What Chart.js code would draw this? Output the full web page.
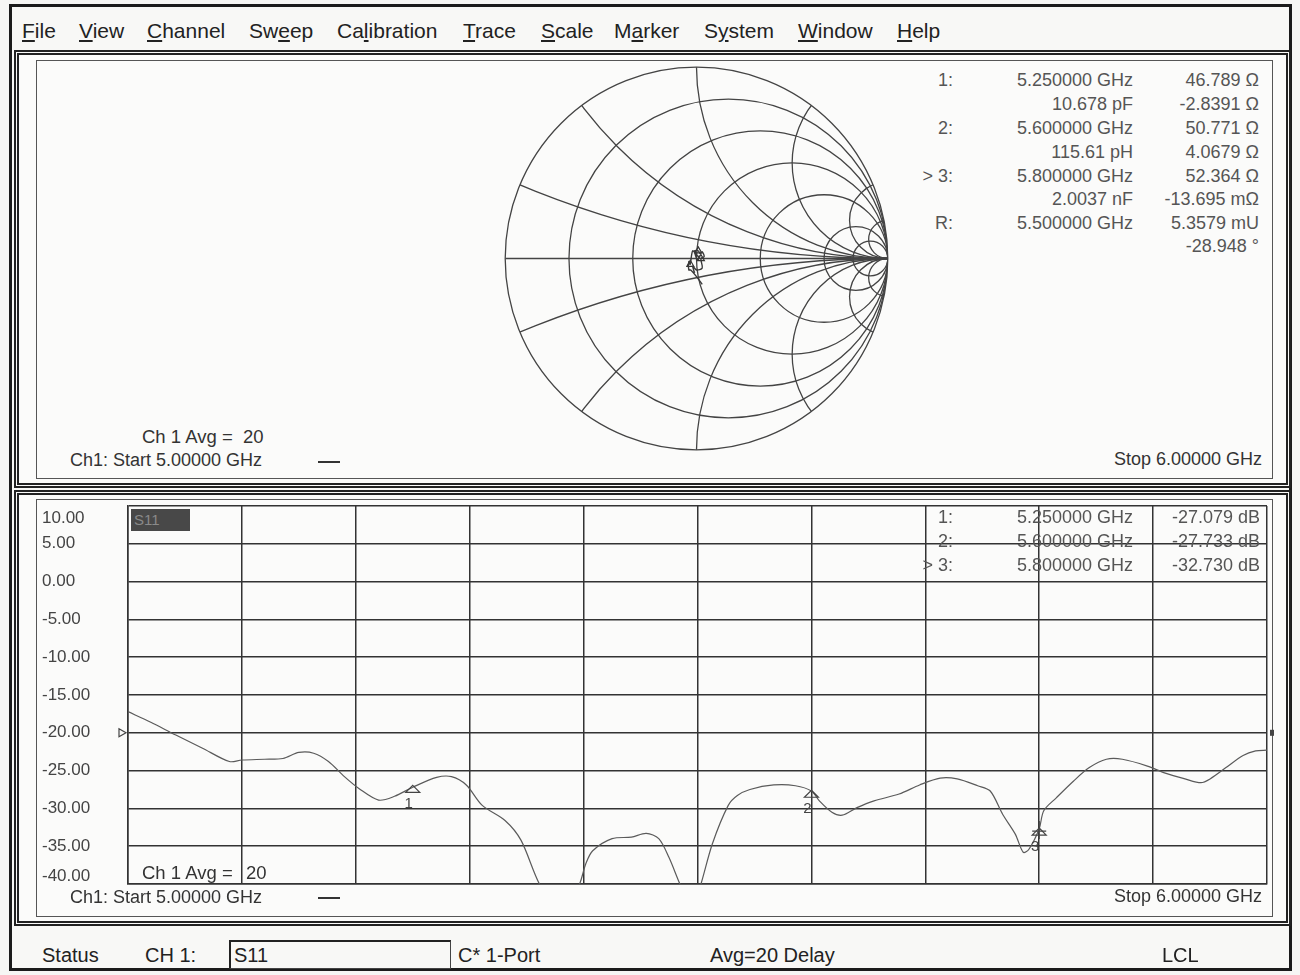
<!DOCTYPE html>
<html lang="en">
<head>
<meta charset="UTF-8">
<title>S11 - Network Analyzer</title>
<script src="https://cdn.jsdelivr.net/npm/chart.js"></script>
<style>
  body { margin: 0; width: 1300px; height: 975px; position: relative; overflow: hidden;
         background: #f6f6f4; font-family: "Liberation Sans", Arial, sans-serif; color: #333; }
  .box { position: absolute; box-sizing: border-box; }
  .txt { position: absolute; white-space: pre; line-height: 1; }
  .menu { position: absolute; top: 19px; font-size: 21px; color: #222; white-space: nowrap; }
  canvas { position: absolute; }
</style>
</head>
<body>
  <!-- window frame -->
  <div class="box" style="left:9px;top:4px;width:1283px;height:967px;border:3px solid #1b1b1b;background:#f8f8f6"></div>
  <div class="box" style="left:14px;top:50px;width:1277px;height:438px;border:5px double #222;background:#fbfbfa"></div>
  <div class="box" style="left:36px;top:60px;width:1237px;height:419px;border:1px solid #555"></div>
  <div class="box" style="left:14px;top:490px;width:1277px;height:436px;border:5px double #222;background:#fbfbfa"></div>
  <div class="box" style="left:36px;top:499px;width:1237px;height:418px;border:1px solid #555"></div>
  <div class="box" style="left:229px;top:940px;width:222px;height:29px;border:1px solid #444;border-top:2px solid #222;border-left:2px solid #222"></div>

  <div class="menu" style="left:22px"><u>F</u>ile</div>
  <div class="menu" style="left:79px"><u>V</u>iew</div>
  <div class="menu" style="left:147px"><u>C</u>hannel</div>
  <div class="menu" style="left:249px">Sw<u>e</u>ep</div>
  <div class="menu" style="left:337px">Ca<u>l</u>ibration</div>
  <div class="menu" style="left:463px"><u>T</u>race</div>
  <div class="menu" style="left:541px"><u>S</u>cale</div>
  <div class="menu" style="left:614px">M<u>a</u>rker</div>
  <div class="menu" style="left:704px">S<u>y</u>stem</div>
  <div class="menu" style="left:798px"><u>W</u>indow</div>
  <div class="menu" style="left:897px"><u>H</u>elp</div>

  <canvas id="smith" width="393" height="393" style="left:500px;top:62px"></canvas>
  <canvas id="dbChart" width="1236" height="412" style="left:38px;top:500px"></canvas>

<script>
// S11 log-magnitude trace
const freqGHz = [5.000, 5.020, 5.042, 5.065, 5.089, 5.100, 5.120, 5.136, 5.150, 5.163,
                 5.176, 5.190, 5.203, 5.220, 5.234, 5.250, 5.271, 5.284, 5.297, 5.311,
                 5.331, 5.345, 5.363, 5.380, 5.395, 5.402, 5.408, 5.425, 5.442, 5.455,
                 5.466, 5.475, 5.486, 5.495, 5.502, 5.513, 5.527, 5.535, 5.546, 5.567,
                 5.586, 5.600, 5.607, 5.618, 5.627, 5.640, 5.655, 5.677, 5.695, 5.713,
                 5.728, 5.746, 5.757, 5.768, 5.779, 5.786, 5.791, 5.800, 5.804, 5.815,
                 5.830, 5.844, 5.859, 5.873, 5.895, 5.910, 5.928, 5.942, 5.950, 5.964,
                 5.979, 5.990, 6.000];
const s11Db = [-17.2, -18.6, -20.3, -22.0, -23.8, -23.6, -23.5, -23.4, -22.6, -22.7,
               -23.8, -25.8, -27.4, -28.9, -28.4, -27.2, -25.9, -25.8, -26.9, -29.6,
               -31.6, -34.2, -40.5, -43.0, -40.5, -37.3, -35.6, -34.0, -33.8, -33.3,
               -34.0, -36.5, -40.5, -43.0, -40.5, -34.7, -29.6, -28.3, -27.5, -26.9,
               -27.0, -27.7, -29.0, -30.5, -30.9, -29.9, -29.0, -28.1, -26.9, -26.0,
               -26.1, -27.0, -27.7, -30.8, -33.4, -35.8, -35.4, -32.7, -30.3, -28.6,
               -26.4, -24.6, -23.5, -23.5, -24.4, -25.3, -26.1, -26.6, -26.1, -24.6,
               -23.0, -22.4, -22.3];

// the same sweep on the Smith chart (reflection coefficient, rough)
const smithRe = [0.030, 0.000, -0.030, -0.040, -0.040, -0.033, -0.020, 0.000, 0.010, 0.015, 0.005,
                 -0.010, 0.009, 0.020, 0.030, 0.040, 0.023, 0.030, 0.000, -0.020, -0.010];
const smithIm = [-0.135, -0.095, -0.060, -0.060, -0.015, -0.030, 0.040, 0.020, 0.010, 0.013, -0.008,
                 0.040, 0.040, 0.025, 0.035, 0.010, 0.000, -0.050, -0.060, -0.040, -0.075];

// markers
const markerNames = ['1:', '2:', '> 3:'];
const markerFreq = [5.25, 5.6, 5.8];
const markerDb = [-27.079, -27.733, -32.730];
const markerR = [46.789, 50.771, 52.364];
const markerX = [-2.8391, 4.0679, -0.013695];
const markerZText = ['46.789 Ω', '50.771 Ω', '52.364 Ω'];
const markerXText = ['-2.8391 Ω', '4.0679 Ω', '-13.695 mΩ'];
const markerLC = ['10.678 pF', '115.61 pH', '2.0037 nF'];
const refFreq = 5.5;
const refMag = '5.3579 mU';
const refAngle = '-28.948 °';

// axes
const yMin = -40, yMax = 10, yStep = 5;
const fStart = 5.0, fStop = 6.0, fStep = 0.1;
const refLevel = -20;
const z0 = 50;
const smithR = [0.2, 0.5, 1, 2, 5, 10];
const smithX = [0.2, 0.5, 1, 2, 5, 10];

function put(text, x, y, size, align, color) {
  const d = document.createElement('div');
  d.className = 'txt';
  d.textContent = text;
  d.style.left = x + 'px';
  d.style.top = y + 'px';
  d.style.fontSize = size + 'px';
  d.style.transform = align === 'right' ? 'translate(-100%,-50%)' : 'translate(0,-50%)';
  if (color) d.style.color = color;
  document.body.appendChild(d);
}

function ghz(f) { return f.toFixed(6) + ' GHz'; }

// ---- top panel readout ----
const rowY = [80, 104, 128, 152, 176, 199, 223, 246];
markerNames.forEach((n, i) => {
  put(n, 953, rowY[i * 2], 18, 'right', '#555');
  put(ghz(markerFreq[i]), 1133, rowY[i * 2], 18, 'right', '#555');
  put(markerZText[i], 1259, rowY[i * 2], 18, 'right', '#555');
  put(markerLC[i], 1133, rowY[i * 2 + 1], 18, 'right', '#555');
  put(markerXText[i], 1259, rowY[i * 2 + 1], 18, 'right', '#555');
});
put('R:', 953, rowY[6], 18, 'right', '#555');
put(ghz(refFreq), 1133, rowY[6], 18, 'right', '#555');
put(refMag, 1259, rowY[6], 18, 'right', '#555');
put(refAngle, 1259, rowY[7], 18, 'right', '#555');

put('Ch 1 Avg =  20', 142, 437, 18.5, 'left', '#333');
put('Ch1: Start ' + fStart.toFixed(5) + ' GHz', 70, 460, 18, 'left', '#333');
put('Stop ' + fStop.toFixed(5) + ' GHz', 1262, 459, 18, 'right', '#333');
document.body.insertAdjacentHTML('beforeend',
  '<div class="box" style="left:318px;top:461px;width:22px;height:2px;background:#333"></div>');

// ---- bottom panel readout ----
const tblY = [517, 541, 565];
markerNames.forEach((n, i) => {
  put(n, 953, tblY[i], 18, 'right', '#555');
  put(ghz(markerFreq[i]), 1133, tblY[i], 18, 'right', '#555');
  put(markerDb[i].toFixed(3) + ' dB', 1260, tblY[i], 18, 'right', '#555');
});
document.body.insertAdjacentHTML('beforeend',
  '<div class="box" style="left:131px;top:509px;width:59px;height:22px;background:#484848;color:#8a8a8a;font-size:15px;line-height:22px;padding-left:3px">S11</div>' +
  '<div class="box" style="left:318px;top:897px;width:22px;height:2px;background:#333"></div>');
put('Ch 1 Avg =', 142, 873, 18.5, 'left', '#333');
put('20', 246, 873, 18.5, 'left', '#333');
put('Ch1: Start ' + fStart.toFixed(5) + ' GHz', 70, 897, 18, 'left', '#333');
put('Stop ' + fStop.toFixed(5) + ' GHz', 1262, 896, 18, 'right', '#333');

// ---- status bar ----
put('Status', 42, 955, 20, 'left', '#222');
put('CH 1:', 145, 955, 20, 'left', '#222');
put('S11', 234, 955, 20, 'left', '#222');
put('C* 1-Port', 458, 955, 20, 'left', '#222');
put('Avg=20 Delay', 710, 955, 20, 'left', '#222');
put('LCL', 1162, 955, 20, 'left', '#222');

// ---- Smith chart ----
const markerGamma = markerR.map((r, i) => {
  const x = markerX[i];
  const d = (r + z0) * (r + z0) + x * x;
  return { x: ((r - z0) * (r + z0) + x * x) / d, y: (2 * z0 * x) / d };
});

const smithGrid = {
  id: 'smithGrid',
  beforeDatasetsDraw(chart) {
    const ctx = chart.ctx;
    const xs = chart.scales.x, ys = chart.scales.y;
    const cx = xs.getPixelForValue(0), cy = ys.getPixelForValue(0);
    const R = (xs.getPixelForValue(1) - xs.getPixelForValue(-1)) / 2;
    ctx.save();
    ctx.strokeStyle = '#444';
    ctx.lineWidth = 1.3;
    ctx.beginPath();
    ctx.arc(cx, cy, R, 0, Math.PI * 2);
    ctx.stroke();
    ctx.clip();
    smithR.forEach(r => {
      ctx.beginPath();
      ctx.arc(xs.getPixelForValue(r / (1 + r)), cy, R / (1 + r), 0, Math.PI * 2);
      ctx.stroke();
    });
    smithX.forEach(x => {
      [1, -1].forEach(s => {
        ctx.beginPath();
        ctx.arc(xs.getPixelForValue(1), ys.getPixelForValue(s / x), R / x, 0, Math.PI * 2);
        ctx.stroke();
      });
    });
    ctx.beginPath();
    ctx.moveTo(xs.getPixelForValue(-1), cy);
    ctx.lineTo(xs.getPixelForValue(1), cy);
    ctx.stroke();
    ctx.restore();
  }
};

new Chart(document.getElementById('smith'), {
  type: 'scatter',
  data: {
    datasets: [{
      data: smithRe.map((re, i) => ({ x: re, y: smithIm[i] })),
      showLine: true,
      borderColor: '#3a3a3a',
      borderWidth: 1.4,
      pointRadius: 0,
      tension: 0.3
    }, {
      data: markerGamma,
      pointStyle: 'triangle',
      pointRadius: 4,
      borderColor: '#333',
      borderWidth: 1.2,
      backgroundColor: 'rgba(0,0,0,0)'
    }]
  },
  options: {
    responsive: false,
    animation: false,
    layout: { padding: 5 },
    plugins: { legend: { display: false }, tooltip: { enabled: false } },
    scales: {
      x: { type: 'linear', min: -1, max: 1, display: false },
      y: { type: 'linear', min: -1, max: 1, display: false }
    }
  },
  plugins: [smithGrid]
});

// ---- log magnitude chart ----
const axisText = {
  id: 'axisText',
  afterDraw(chart) {
    const ctx = chart.ctx;
    const ys = chart.scales.y, xs = chart.scales.x;
    const area = chart.chartArea;
    ctx.save();
    ctx.font = '17px "Liberation Sans", Arial, sans-serif';
    ctx.fillStyle = '#444';
    ctx.textAlign = 'left';
    ctx.textBaseline = 'middle';
    ys.ticks.forEach(t => {
      let y = ys.getPixelForValue(t.value);
      y = Math.min(Math.max(y, area.top + 12), area.bottom - 8);
      ctx.fillText(t.value.toFixed(2), 4, y);
    });
    // reference level arrows
    const yr = ys.getPixelForValue(refLevel);
    ctx.strokeStyle = '#444';
    ctx.fillStyle = '#444';
    ctx.lineWidth = 1.2;
    ctx.beginPath();
    ctx.moveTo(area.left - 9, yr - 4);
    ctx.lineTo(area.left - 2, yr);
    ctx.lineTo(area.left - 9, yr + 4);
    ctx.closePath();
    ctx.stroke();
    ctx.fillRect(area.right + 3, yr - 3, 7, 6);
    // markers
    ctx.font = '15px "Liberation Sans", Arial, sans-serif';
    ctx.textAlign = 'center';
    markerFreq.forEach((f, i) => {
      const x = xs.getPixelForValue(f), y = ys.getPixelForValue(markerDb[i]);
      ctx.beginPath();
      ctx.moveTo(x, y - 1);
      ctx.lineTo(x + 7, y + 6);
      ctx.lineTo(x - 7, y + 6);
      ctx.closePath();
      ctx.stroke();
      if (i === 2) {
        ctx.beginPath();
        ctx.moveTo(x - 7, y + 2);
        ctx.lineTo(x + 7, y + 2);
        ctx.moveTo(x, y - 8);
        ctx.lineTo(x, y + 10);
        ctx.stroke();
      }
      ctx.fillText(String(i + 1), x - 4, y + 18);
    });
    ctx.restore();
  }
};

const gridStyle = { color: '#333', lineWidth: 1.5, drawTicks: false };

new Chart(document.getElementById('dbChart'), {
  type: 'line',
  data: {
    datasets: [{
      data: freqGHz.map((f, i) => ({ x: f, y: s11Db[i] })),
      borderColor: '#5a5a5a',
      borderWidth: 1.2,
      pointRadius: 0,
      tension: 0.3
    }]
  },
  options: {
    responsive: false,
    animation: false,
    layout: { padding: { top: 6, right: 7, bottom: 28, left: 0 } },
    plugins: { legend: { display: false }, tooltip: { enabled: false } },
    scales: {
      x: {
        type: 'linear', min: fStart, max: fStop,
        ticks: { display: false, stepSize: fStep },
        grid: gridStyle,
        border: { color: '#333', width: 1.5 },
        afterFit: s => { s.height = 0; }
      },
      y: {
        min: yMin, max: yMax,
        ticks: { display: false, stepSize: yStep },
        grid: gridStyle,
        border: { color: '#333', width: 1.5 },
        afterFit: s => { s.width = 90; }
      }
    }
  },
  plugins: [axisText]
});
</script>
</body>
</html>
